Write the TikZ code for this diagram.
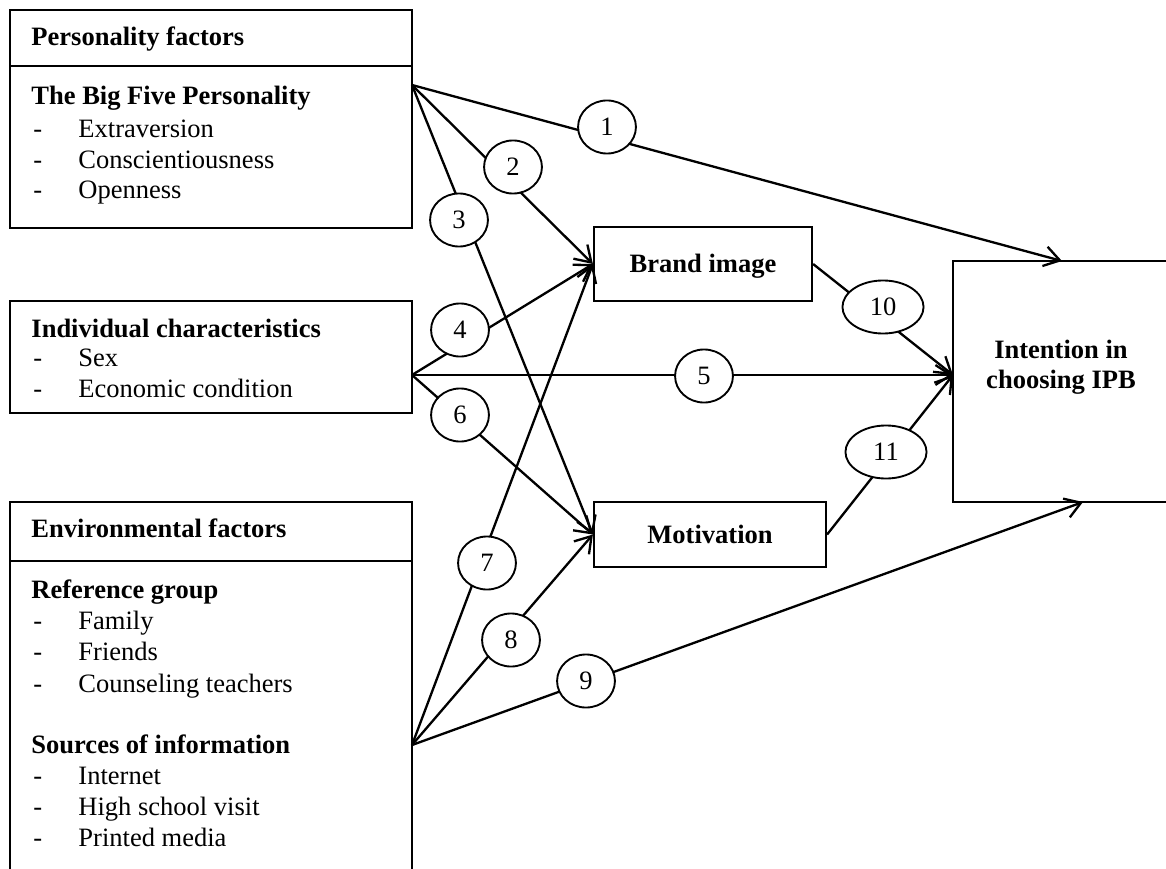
\documentclass[tikz,border=0pt]{standalone}
\usepackage{fontspec}
\setmainfont{Liberation Serif}
\usetikzlibrary{arrows.meta,shapes.geometric,fit}
\begin{document}
\begin{tikzpicture}[x=0.4525pt,y=-0.4525pt,
  box/.style={draw, line width=1pt, inner sep=0pt},
  conn/.style={line width=1.05pt, -{Straight Barb[length=7pt,width=9pt,line width=1.05pt]}},
  plainline/.style={line width=1pt},
  num/.style={ellipse, draw, fill=white, line width=0.85pt, minimum width=26.2pt, minimum height=24pt, inner sep=0pt, font=\fontsize{12}{14}\selectfont},
  widenum/.style={num, minimum width=36.7pt},
  hd/.style={anchor=base west, inner sep=0pt, font=\fontsize{12}{14}\selectfont\bfseries},
  txt/.style={anchor=base west, inner sep=0pt, font=\fontsize{12}{14}\selectfont},
  ctr/.style={anchor=base, inner sep=0pt, font=\fontsize{12}{14}\selectfont\bfseries},
]
\useasboundingbox (0,0) rectangle (1166,868);

% boxes
\node[box, fit={(10,10) (412,228)}] (pers) {};
\node[box, fit={(10,301) (412,413)}] (indiv) {};
\node[box, fit={(10,502) (412,880)}] (env) {};
\node[box, fit={(594,227) (812,301)}] (brand) {};
\node[box, fit={(594,502) (826,567)}] (motiv) {};
\node[box, fit={(953,261) (1170,502)}] (intent) {};
\draw[plainline] (10,66) -- (412,66);
\draw[plainline] (10,561) -- (412,561);

% texts
\node[hd] (t1) at (31,46) {Personality factors};
\node[hd] (t2) at (31,105) {The Big Five Personality};
\node[txt] (d1) at (33,138) {-}; \node[txt] (t3) at (78,138) {Extraversion};
\node[txt] (d2) at (33,169) {-}; \node[txt] (t4) at (78,169) {Conscientiousness};
\node[txt] (d3) at (33,199) {-}; \node[txt] (t5) at (78,199) {Openness};

\node[hd] (t6) at (31,337) {Individual characteristics};
\node[txt] (d4) at (33,366) {-}; \node[txt] (t7) at (78,366) {Sex};
\node[txt] (d5) at (33,397) {-}; \node[txt] (t8) at (78,397) {Economic condition};

\node[hd] (t9) at (31,537) {Environmental factors};
\node[hd] (t10) at (31,598) {Reference group};
\node[txt] (d6) at (33,629) {-}; \node[txt] (t11) at (78,629) {Family};
\node[txt] (d7) at (33,660) {-}; \node[txt] (t12) at (78,660) {Friends};
\node[txt] (d8) at (33,692) {-}; \node[txt] (t13) at (78,692) {Counseling teachers};
\node[hd] (t14) at (31,753) {Sources of information};
\node[txt] (d9) at (33,784) {-}; \node[txt] (t15) at (78,784) {Internet};
\node[txt] (d10) at (33,815) {-}; \node[txt] (t16) at (78,815) {High school visit};
\node[txt] (d11) at (33,846) {-}; \node[txt] (t17) at (78,846) {Printed media};

\node[ctr] (t18) at (703,273) {Brand image};
\node[ctr] (t19) at (710,543) {Motivation};
\node[ctr] (t20) at (1061,358) {Intention in};
\node[ctr] (t21) at (1061,388) {choosing IPB};

% connector end points
\coordinate (ps) at (412,85);
\coordinate (is) at (412,375);
\coordinate (es) at (412,745);
\coordinate (itop) at (1062,261);
\coordinate (iwest) at (953,375);
\coordinate (ibot) at (1083,502);

% connectors
\draw[conn] (ps) -- (itop);
\draw[conn] (ps) -- (brand.west);
\draw[conn] (ps) -- (motiv.west);
\draw[conn] (is) -- (brand.west);
\draw[conn] (is) -- (iwest);
\draw[conn] (is) -- (motiv.west);
\draw[conn] (es) -- (brand.west);
\draw[conn] (es) -- (motiv.west);
\draw[conn] (es) -- (ibot);
\draw[conn] (brand.east) -- (iwest);
\draw[conn] (motiv.east) -- (iwest);

% path labels
\node[num] (n1) at (607,127) {1};
\node[num] (n2) at (513,167) {2};
\node[num] (n3) at (459,220) {3};
\node[num] (n4) at (460,330) {4};
\node[num] (n5) at (704,376) {5};
\node[num] (n6) at (460,415) {6};
\node[num] (n7) at (487,563) {7};
\node[num] (n8) at (511,640) {8};
\node[num] (n9) at (586,681) {9};
\node[widenum] (n10) at (883,307) {10};
\node[widenum] (n11) at (886,452) {11};
\end{tikzpicture}
\end{document}
